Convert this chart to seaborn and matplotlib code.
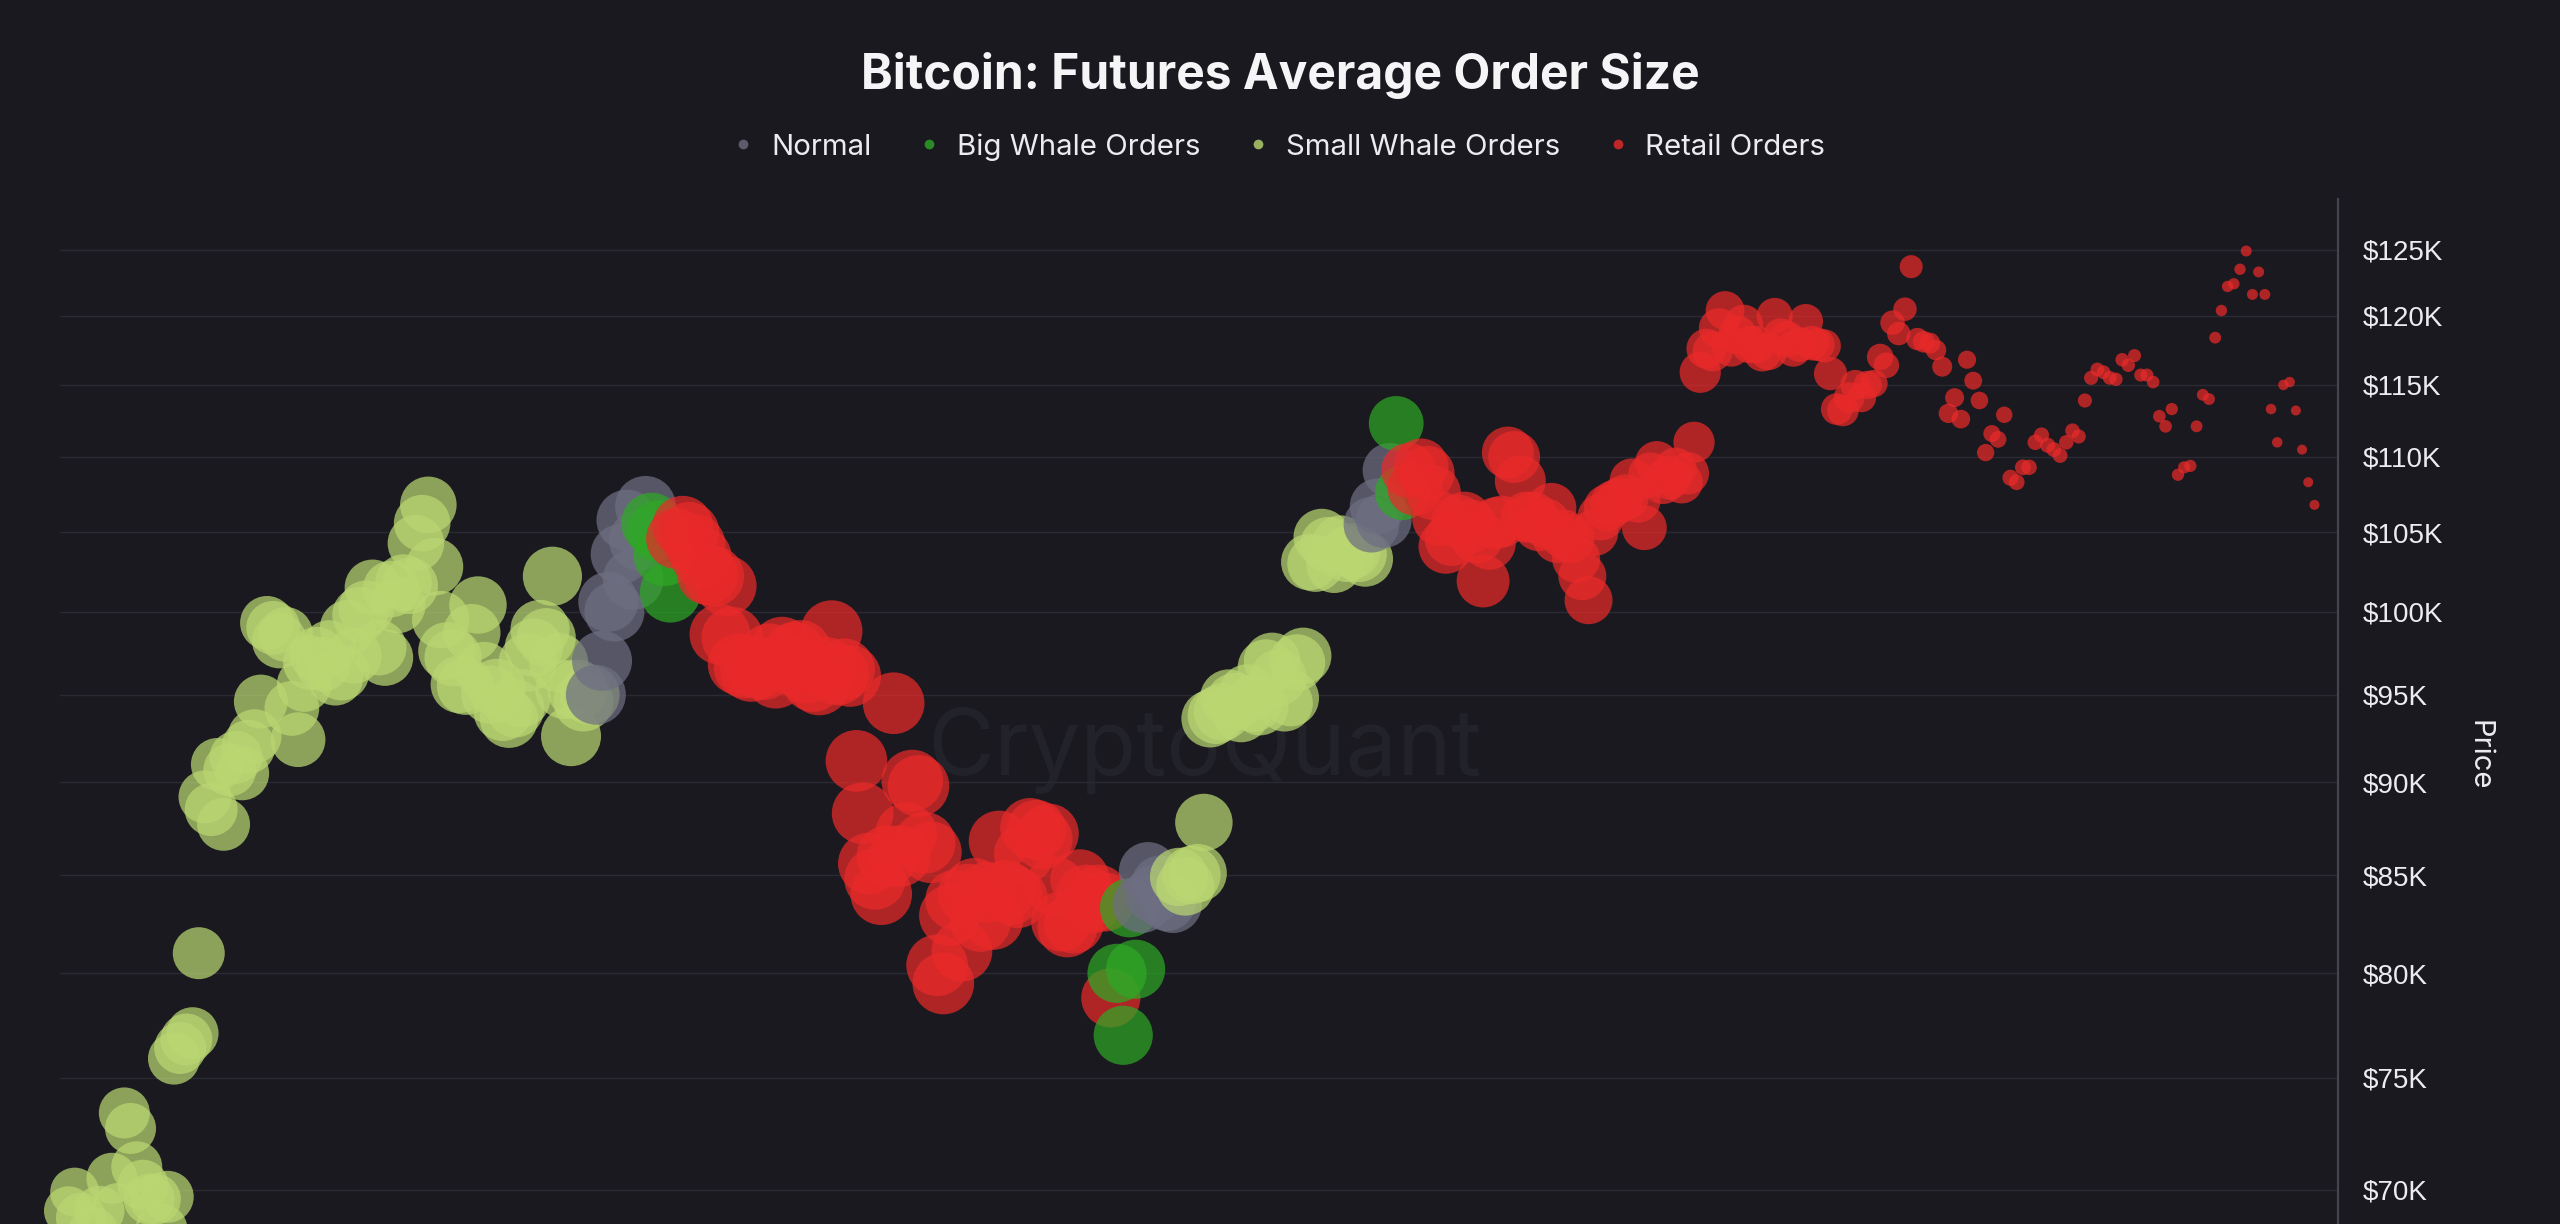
import pandas as pd
import matplotlib
matplotlib.use("Agg")
import matplotlib.pyplot as plt
import seaborn as sns
from matplotlib.lines import Line2D
from matplotlib.ticker import FixedLocator, FixedFormatter, NullLocator

# one point per day, first day 2024-10-20
START = "2024-10-20"

# BTC price ($K), month by month
price_oct24 = [69.1, 69.9, 68.8, 67.0, 68.2, 69.1, 67.0, 70.5, 69.2, 73.4, 72.7, 71.0]
price_nov24 = [70.2, 69.6, 69.6, 68.3, 69.7, 75.9, 76.4, 76.8, 77.1, 81.0,
               89.2, 88.5, 91.0, 87.7, 90.7, 91.4, 90.5, 92.0, 92.6, 94.6,
               99.3, 99.0, 98.2, 98.6, 94.2, 92.4, 95.6, 96.9, 97.4, 96.8]
price_dec24 = [97.8, 96.0, 96.3, 99.0, 97.3, 99.8, 100.2, 101.5, 97.8, 97.2,
               101.4, 100.4, 101.8, 101.6, 104.3, 105.6, 106.8, 102.8, 99.5, 97.6,
               97.2, 95.6, 95.5, 98.7, 100.4, 96.4, 95.0, 95.4, 94.0, 93.6, 94.2]
price_jan25 = [94.8, 96.9, 97.8, 98.9, 98.4, 102.2, 96.9, 95.3, 92.6, 95.3,
               94.6, 95.0, 95.0, 97.0, 100.6, 100.0, 103.6, 105.8, 102.0, 104.5,
               106.7, 105.6, 105.1, 103.5, 101.2, 104.6, 105.4, 105.0, 104.2, 103.4, 102.3]
price_feb25 = [102.2, 98.6, 101.6, 98.4, 96.8, 96.6, 96.4, 96.6, 96.5, 97.4,
               96.0, 97.8, 96.8, 97.5, 97.6, 96.3, 95.8, 95.6, 96.6, 98.8,
               96.2, 96.5, 96.1, 91.2, 88.3, 85.6, 84.8, 84.0]
price_mar25 = [86.0, 94.5, 86.0, 87.2, 90.1, 89.8, 86.7, 86.2, 80.4, 79.5,
               82.9, 83.7, 81.1, 84.0, 84.3, 82.6, 84.1, 82.7, 86.8, 84.2,
               84.0, 83.8, 86.1, 87.5, 87.4, 86.9, 87.2, 84.4, 82.6, 82.3, 82.5]
price_apr25 = [84.8, 84.0, 83.5, 84.0, 83.6, 78.8, 80.0, 77.0, 83.3, 80.2,
               83.5, 85.2, 84.0, 84.5, 83.6, 83.5, 84.9, 84.4, 85.0, 85.1,
               87.8, 93.6, 93.8, 94.0, 94.8, 94.6, 93.9, 95.1, 94.5, 94.3]
price_may25 = [96.6, 97.0, 96.0, 94.5, 94.8, 96.9, 97.3, 103.1, 103.0, 104.7,
               104.2, 102.9, 104.3, 103.6, 103.8, 103.6, 103.3, 105.5, 106.7, 105.8,
               109.1, 112.3, 107.6, 109.1, 107.9, 109.4, 108.9, 107.6, 105.9, 104.1, 104.6]
price_jun25 = [105.7, 105.9, 105.4, 104.7, 101.9, 104.3, 105.6, 105.7, 110.3, 110.0,
               108.4, 106.0, 106.0, 105.4, 105.6, 106.6, 104.6, 104.9, 104.6, 103.3,
               102.2, 100.7, 105.0, 106.0, 106.6, 106.9, 107.1, 107.3, 108.4, 107.1]
price_jul25 = [105.3, 108.8, 109.6, 108.3, 108.6, 109.2, 108.3, 108.9, 111.0, 115.9,
               117.6, 117.4, 119.1, 120.4, 117.7, 118.6, 119.4, 117.9, 117.9, 117.3,
               117.4, 120.0, 118.5, 118.3, 117.6, 117.9, 119.6, 118.0, 117.9, 117.8, 115.8]
price_aug25 = [113.3, 113.2, 114.1, 115.0, 114.1, 115.0, 115.1, 117.0, 116.4, 119.5,
               118.7, 120.5, 123.7, 118.3, 118.1, 118.0, 117.5, 116.3, 113.0, 114.1,
               112.6, 116.8, 115.3, 113.9, 110.3, 111.6, 111.2, 112.9, 108.6, 108.3, 109.3]
price_sep25 = [109.3, 111.0, 111.5, 110.8, 110.5, 110.1, 111.0, 111.8, 111.4, 113.9,
               115.5, 116.1, 115.9, 115.5, 115.4, 116.8, 116.4, 117.1, 115.7, 115.7,
               115.2, 112.8, 112.1, 113.3, 108.8, 109.3, 109.4, 112.1, 114.3, 114.0]
price_oct25 = [118.4, 120.4, 122.2, 122.4, 123.5, 124.9, 121.6, 123.3, 121.6, 113.3,
               111.0, 115.0, 115.2, 113.2, 110.5, 108.3, 106.8]

# order type per day: S small whale, N normal, B big whale, R retail
type_codes = (
    "SSSSSSSSSSSS"                                   # oct 20-31
    "SSSSSSSSSSSSSSSSSSSSSSSSSSSSSS"                 # nov
    "SSSSSSSSSSSSSSSSSSSSSSSSSSSSSSS"                # dec
    "SSSSSSSSSSSS" "NNNNNNNNN" "BBBB" "RRRRRR"       # jan
    "RRRRRRRRRRRRRRRRRRRRRRRRRRRR"                   # feb
    "RRRRRRRRRRRRRRRRRRRRRRRRRRRRRRR"                # mar
    "RRRRRR" "BBBB" "NNNNNN" "SSSSSSSSSSSSSS"        # apr
    "SSSSSSSSSSSSSSSSS" "NNNN" "BB" "RRRRRRRR"       # may
    "RRRRRRRRRRRRRRRRRRRRRRRRRRRRRR"                 # jun
    "RRRRRRRRRRRRRRRRRRRRRRRRRRRRRRR"                # jul
    "RRRRRRRRRRRRRRRRRRRRRRRRRRRRRRR"                # aug
    "RRRRRRRRRRRRRRRRRRRRRRRRRRRRRR"                 # sep
    "RRRRRRRRRRRRRRRRR"                              # oct
)

# bubble size = average order size (relative units)
order_size = [
    24, 24, 25, 25, 25, 25, 26, 26, 26, 26, 26, 26,
    26, 26, 26, 27, 27, 27, 27, 27, 27, 27, 28, 28, 28, 28, 28, 28, 29, 29, 29, 29,
    29, 29, 30, 30, 30, 30, 30, 30, 30, 30,
    30, 31, 31, 31, 31, 31, 31, 31, 31, 32, 32, 32, 32, 32, 32, 32, 32, 33, 33, 33,
    33, 33, 33, 33, 33, 34, 34, 34, 34, 34, 34,
    34, 34, 34, 35, 35, 35, 35, 35, 36, 36, 36, 36, 36, 36, 36, 36, 36, 37, 37, 37,
    37, 37, 37, 37, 37, 37, 37, 37, 37, 37, 37,
    37, 37, 37, 38, 38, 38, 38, 38, 38, 38, 38, 38, 38, 38, 38, 38, 38, 38, 38, 38,
    38, 38, 38, 38, 38, 38, 38, 38,
    38, 38, 38, 38, 38, 38, 38, 38, 38, 38, 37, 37, 37, 37, 37, 37, 37, 37, 37, 37,
    37, 36, 36, 36, 36, 36, 36, 36, 36, 36, 36,
    35, 35, 35, 35, 35, 35, 35, 35, 35, 35, 34, 34, 34, 34, 34, 34, 34, 34, 34, 34,
    33, 33, 33, 33, 33, 33, 33, 33, 33, 33,
    32, 32, 32, 32, 32, 32, 32, 32, 32, 32, 31, 31, 31, 31, 31, 31, 31, 31, 31, 31,
    30, 30, 30, 30, 30, 30, 30, 30, 30, 30, 30,
    29, 29, 29, 28, 28, 28, 27, 27, 27, 27, 26, 26, 26, 25, 25, 25, 24, 24, 24, 23,
    23, 23, 22, 22, 22, 21, 21, 21, 20, 20,
    20, 20, 19, 19, 19, 18, 18, 18, 17, 17, 16, 16, 16, 15, 15, 15, 15, 14, 14, 14,
    14, 13, 13, 13, 13, 12, 12, 12, 11, 11, 11,
    10, 10, 9.5, 9, 8.5, 8, 7.5, 7, 6.5, 6, 5.5, 5.5, 5.3, 5, 4.6, 4.4, 4.2, 4.0, 3.8, 3.6,
    3.5, 3.3, 3.2, 3.1, 3.0, 2.9, 2.8, 2.7, 2.6, 2.5, 2.5,
    2.4, 2.4, 2.3, 2.3, 2.2, 2.2, 2.1, 2.1, 2.0, 2.0, 2.0, 1.9, 1.9, 1.9, 1.8, 1.8, 1.8, 1.7, 1.7, 1.7,
    1.6, 1.6, 1.6, 1.5, 1.5, 1.5, 1.5, 1.4, 1.4, 1.4,
    1.4, 1.3, 1.3, 1.3, 1.3, 1.2, 1.2, 1.2, 1.2, 1.1, 1.1, 1.1, 1.1, 1.0, 1.0, 1.0, 1.0,
]

type_names = {"N": "Normal", "B": "Big Whale Orders", "S": "Small Whale Orders", "R": "Retail Orders"}
legend_order = ["Normal", "Big Whale Orders", "Small Whale Orders", "Retail Orders"]
palette = {"Normal": "#6e6e82", "Big Whale Orders": "#2ea825",
           "Small Whale Orders": "#bad772", "Retail Orders": "#ea2a2a"}

y_ticks = [70, 75, 80, 85, 90, 95, 100, 105, 110, 115, 120, 125]
y_labels = ["$70K", "$75K", "$80K", "$85K", "$90K", "$95K", "$100K",
            "$105K", "$110K", "$115K", "$120K", "$125K"]

price_k = (price_oct24 + price_nov24 + price_dec24 + price_jan25 + price_feb25 + price_mar25
           + price_apr25 + price_may25 + price_jun25 + price_jul25 + price_aug25
           + price_sep25 + price_oct25)
assert len(price_k) == len(type_codes) == len(order_size), (len(price_k), len(type_codes), len(order_size))

df = pd.DataFrame({
    "date": pd.date_range(START, periods=len(price_k), freq="D"),
    "price": price_k,
    "type": [type_names[c] for c in type_codes],
    "order_size": order_size,
})

BG = "#19191f"
sns.set_style("dark", {"axes.facecolor": BG, "figure.facecolor": BG})
plt.rcParams["font.family"] = ["Inter", "DejaVu Sans"]

fig = plt.figure(figsize=(25.6, 12.24), dpi=100)
ax = fig.add_axes([0.0236, 0.0, 0.8897, 0.8373])

# faint watermark behind the points
ax.text(0.5025, 0.462, "CryptoQuant", transform=ax.transAxes, ha="center", va="center",
        fontsize=66, color="#22222a", zorder=0)

sns.scatterplot(data=df, x="date", y="price", hue="type", hue_order=legend_order,
                palette=palette, size="order_size", sizes=(52, 1970), size_norm=(1, 38),
                alpha=0.72, linewidth=0, legend=False, ax=ax, zorder=3)
for coll in ax.collections:
    coll.set_clip_on(False)

ax.set_yscale("log")
ax.set_ylim(68.54, 128.96)
t0 = pd.Timestamp(START)
ax.set_xlim(t0 - pd.Timedelta(days=1.3), t0 + pd.Timedelta(days=365.8))

ax.yaxis.set_major_locator(FixedLocator(y_ticks))
ax.yaxis.set_major_formatter(FixedFormatter(y_labels))
ax.yaxis.set_minor_locator(NullLocator())
ax.yaxis.tick_right()
ax.tick_params(axis="y", which="both", length=0, pad=17.6, labelsize=20,
               labelcolor="#ececf0", left=False, right=False, labelleft=False, labelright=True)
for lab in ax.get_yticklabels():
    lab.set_family(["Liberation Sans", "DejaVu Sans"])

ax.xaxis.set_visible(False)
ax.set_xlabel("")
ax.set_ylabel("Price", rotation=270, fontsize=21, color="#ececf0", ha="center", va="center")
ax.yaxis.set_label_position("right")
ax.yaxis.set_label_coords(1.068, 0.457)

ax.grid(axis="y", which="major", color="#2a2a33", linewidth=1.0)
ax.grid(axis="x", visible=False)
ax.set_axisbelow(True)
for side in ["top", "left", "bottom"]:
    ax.spines[side].set_visible(False)
ax.spines["right"].set_visible(True)
ax.spines["right"].set_color("#44444e")
ax.spines["right"].set_linewidth(1.6)

fig.text(0.5, 0.938, "Bitcoin: Futures Average Order Size", ha="center", va="center",
         fontsize=34.5, fontweight="bold", color="#f5f5f7")

handles = [Line2D([], [], marker="o", linestyle="", markersize=7, markeredgewidth=0,
                  color=palette[name], alpha=0.8) for name in legend_order]
fig.legend(handles, legend_order, loc="center", bbox_to_anchor=(0.5, 0.880), ncol=4,
           frameon=False, prop={"family": ["Inter", "DejaVu Sans"], "size": 21.2},
           labelcolor="#ececf0", handlelength=0.6, handletextpad=0.65, columnspacing=1.65)

fig.savefig("out.png", dpi=100, facecolor=BG)
